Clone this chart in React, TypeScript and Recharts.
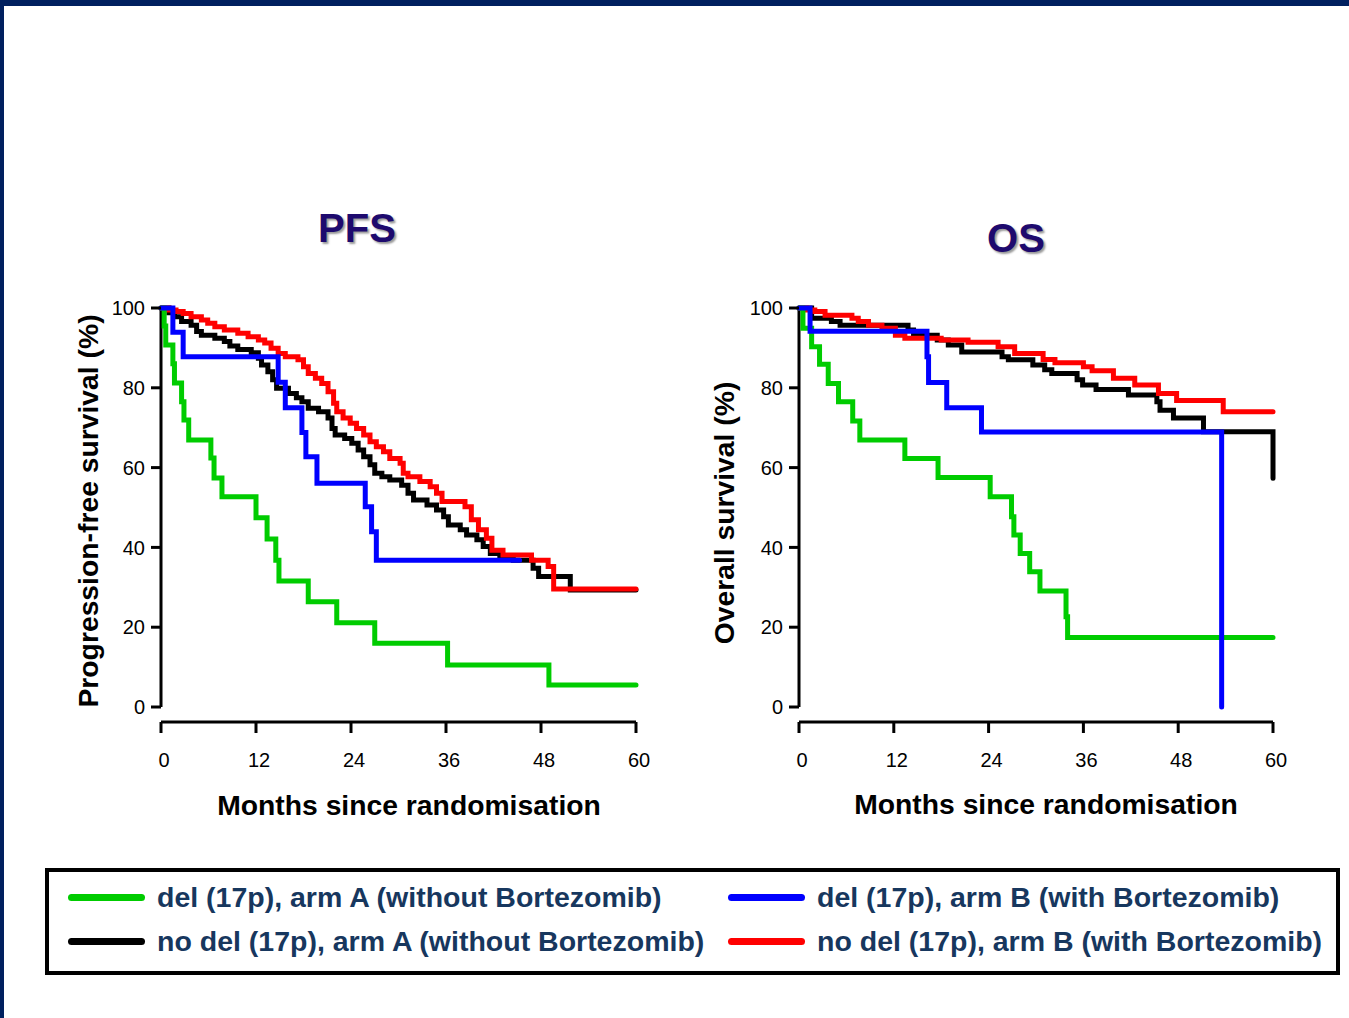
import React from 'react';
import { LineChart, Line, XAxis, YAxis, ReferenceLine } from 'recharts';

// [month, survival %] pairs
const pfsDelA = [[0,100],[0.4,95.5],[0.6,90.7],[1.5,86],[1.7,81.2],[2.6,76.5],[2.9,71.9],[3.5,66.9],[6.3,62.4],[6.7,57.4],[7.7,52.7],[12.0,47.4],[13.4,42.1],[14.5,36.8],[14.9,31.6],[18.6,26.4],[22.2,21.1],[27.0,16.0],[36.2,10.5],[49.0,5.5],[60,5.5]];
const pfsDelB = [[0,100],[1.5,93.9],[2.8,87.8],[14.8,81.4],[15.7,75.0],[17.8,68.8],[18.3,62.7],[19.7,56.1],[25.8,50.2],[26.6,43.9],[27.2,36.8],[45.3,36.8]];
const pfsNoDelA = [[0,100],[1.0,98.8],[1.7,97.8],[2.6,96.6],[3.8,95.7],[4.5,94.1],[5.1,93.2],[6.8,92.4],[8.0,91.6],[8.7,90.5],[9.7,89.6],[11.4,88.8],[12.3,87.4],[12.7,85.7],[13.5,84.0],[14.1,82.0],[14.6,79.9],[16.1,78.6],[17.1,77.5],[17.8,76.5],[18.6,74.9],[19.9,74.0],[21.1,72.4],[21.6,69.8],[22.0,68.2],[23.2,67.3],[24.1,66.1],[24.9,64.4],[25.6,62.7],[26.4,60.7],[27.0,58.6],[27.9,57.7],[28.9,56.9],[30.4,55.6],[31.2,53.6],[31.9,51.9],[33.6,50.6],[34.8,49.4],[35.7,47.7],[36.3,45.6],[37.8,44.4],[38.6,43.1],[39.9,41.9],[40.7,40.2],[41.6,38.5],[42.8,37.7],[44.5,36.8],[47.0,34.8],[47.7,32.7],[51.7,29.3],[60,29.3]];
const pfsNoDelB = [[0,100],[1.0,99.5],[1.9,99.1],[2.8,98.6],[3.8,97.8],[5.1,97.0],[5.9,96.2],[6.8,95.3],[8.0,94.5],[9.7,93.7],[11.0,92.8],[12.3,92.0],[13.1,91.2],[13.9,89.9],[14.8,88.6],[15.7,87.8],[17.3,87.0],[18.0,85.3],[18.6,83.6],[19.5,82.4],[20.3,81.1],[21.1,79.0],[21.8,76.1],[22.2,74.0],[23.0,72.4],[23.9,71.1],[24.7,69.8],[25.6,68.2],[26.4,66.5],[27.2,65.2],[28.1,64.0],[28.9,62.3],[30.2,61.1],[30.6,58.6],[31.2,57.7],[32.7,56.5],[34.0,55.2],[34.8,53.6],[35.5,51.5],[38.4,50.2],[39.2,46.9],[40.1,44.4],[41.1,42.3],[41.8,39.3],[43.2,38.1],[46.8,36.8],[48.9,35.2],[49.6,29.6],[60,29.6]];

const osDelA = [[0,100],[0.5,94.9],[1.6,90.3],[2.6,85.9],[3.7,81.1],[5.0,76.5],[6.8,71.7],[7.7,66.9],[13.4,62.3],[17.6,57.5],[24.2,52.7],[26.9,47.7],[27.2,43.1],[28.0,38.5],[29.2,33.9],[30.5,29.1],[33.8,22.6],[34.0,17.4],[60,17.4]];
const osDelB = [[0,100],[1.4,94.2],[16.2,87.8],[16.4,81.3],[18.7,75.0],[23.1,68.9],[53.5,0]];
const osNoDelA = [[0,100],[1.6,97.4],[4.1,96.6],[5.2,95.7],[13.8,94.5],[14.5,93.2],[17.5,92.0],[18.9,90.7],[20.6,89.0],[25.7,87.8],[26.5,87.0],[29.6,85.7],[31.1,84.5],[32.0,83.6],[35.2,82.0],[35.9,80.7],[37.6,79.6],[41.7,78.2],[45.3,76.5],[45.7,74.4],[47.4,72.4],[51.2,69.0],[60,69.0],[60,57.3]];
const osNoDelB = [[0,100],[1.0,99.5],[2.0,99.1],[3.3,98.2],[6.7,97.4],[7.5,96.6],[8.8,95.7],[10.5,94.9],[12.2,93.2],[13.4,92.4],[18.0,92.0],[21.4,91.4],[25.2,90.3],[27.3,88.6],[30.9,87.1],[32.4,86.3],[36.0,85.3],[37.1,84.3],[39.8,82.4],[42.5,80.7],[45.5,78.6],[47.8,76.8],[53.7,74.0],[60,74.0]];

const monthTicks = [0, 12, 24, 36, 48, 60];
const pctTicks = [0, 20, 40, 60, 80, 100];

const legendItems = [
  { label: 'del (17p), arm A (without Bortezomib)', color: '#00CC00' },
  { label: 'del (17p), arm B (with Bortezomib)', color: '#0000FF' },
  { label: 'no del (17p), arm A (without Bortezomib)', color: '#000000' },
  { label: 'no del (17p), arm B (with Bortezomib)', color: '#FF0000' },
];

const FONT = '"Liberation Sans", Arial, Helvetica, sans-serif';
const NAVY = '#17375E';

const toRows = (pts: number[][]) => pts.map(([m, v]) => ({ m, v }));

interface KMProps {
  left: number;
  yAxisWidth: number;
  rightMargin: number;
  series: { data: number[][]; color: string; key: string }[];
}

const KMChart: React.FC<KMProps> = ({ left, yAxisWidth, rightMargin, series }) => {
  const tickStyle = { fontSize: 20, fill: '#000', fontFamily: FONT };
  return (
    <div style={{ position: 'absolute', left, top: 280 }}>
      <LineChart width={620} height={520} margin={{ top: 28, right: rightMargin, bottom: 0, left: 0 }}>
        <XAxis
          dataKey="m"
          type="number"
          domain={[0, 60]}
          ticks={monthTicks}
          height={78}
          axisLine={{ stroke: '#000', strokeWidth: 3 }}
          tickLine={{ stroke: '#000', strokeWidth: 3 }}
          tickSize={11}
          tickMargin={20}
          tick={{ ...tickStyle, dx: 3 }}
        />
        <YAxis
          type="number"
          domain={[0, 100]}
          ticks={pctTicks}
          width={yAxisWidth}
          padding={{ top: 0, bottom: 15 }}
          axisLine={false}
          tickLine={{ stroke: '#000', strokeWidth: 3 }}
          tickSize={10}
          tickMargin={6}
          tick={tickStyle}
        />
        <ReferenceLine
          segment={[{ x: 0, y: 0 }, { x: 0, y: 100 }]}
          stroke="#000"
          strokeWidth={3}
          ifOverflow="visible"
        />
        {series.map(s => (
          <Line
            key={s.key}
            data={toRows(s.data)}
            dataKey="v"
            type="stepAfter"
            stroke={s.color}
            strokeWidth={5}
            strokeLinecap="round"
            dot={false}
            activeDot={false}
            isAnimationActive={false}
          />
        ))}
      </LineChart>
    </div>
  );
};

const title: React.CSSProperties = {
  position: 'absolute',
  transform: 'translate(-50%, -50%)',
  fontFamily: FONT,
  fontWeight: 'bold',
  fontSize: 40,
  color: '#1E0A6E',
  textShadow: '2px 2px 2px #9a9a9a',
  whiteSpace: 'nowrap',
};

const axisTitle: React.CSSProperties = {
  position: 'absolute',
  fontFamily: FONT,
  fontWeight: 'bold',
  fontSize: 28.3,
  color: '#000',
  whiteSpace: 'nowrap',
};

export default function App() {
  return (
    <div style={{ position: 'absolute', left: 0, top: 0, width: 1349, height: 1018, background: '#fff', overflow: 'hidden' }}>
      <div style={{ position: 'absolute', left: 0, top: 0, width: 1349, height: 6, background: '#00205F' }} />
      <div style={{ position: 'absolute', left: 0, top: 0, width: 4, height: 1018, background: '#00205F' }} />

      <div style={{ ...title, left: 357, top: 228 }}>PFS</div>
      <div style={{ ...title, left: 1016, top: 238 }}>OS</div>

      <KMChart
        left={40}
        yAxisWidth={121}
        rightMargin={24}
        series={[
          { key: 'a', data: pfsNoDelA, color: '#000000' },
          { key: 'b', data: pfsNoDelB, color: '#FF0000' },
          { key: 'c', data: pfsDelA, color: '#00CC00' },
          { key: 'd', data: pfsDelB, color: '#0000FF' },
        ]}
      />
      <KMChart
        left={680}
        yAxisWidth={119}
        rightMargin={27}
        series={[
          { key: 'a', data: osNoDelA, color: '#000000' },
          { key: 'b', data: osNoDelB, color: '#FF0000' },
          { key: 'c', data: osDelA, color: '#00CC00' },
          { key: 'd', data: osDelB, color: '#0000FF' },
        ]}
      />

      <div style={{ ...axisTitle, left: 409, top: 805, transform: 'translate(-50%, -50%)' }}>Months since randomisation</div>
      <div style={{ ...axisTitle, left: 1046, top: 804, transform: 'translate(-50%, -50%)' }}>Months since randomisation</div>
      <div style={{ ...axisTitle, left: 88, top: 511, transform: 'translate(-50%, -50%) rotate(-90deg)' }}>Progression-free survival (%)</div>
      <div style={{ ...axisTitle, left: 724, top: 513, transform: 'translate(-50%, -50%) rotate(-90deg)' }}>Overall survival (%)</div>

      <div style={{ position: 'absolute', left: 45, top: 868, width: 1295, height: 107, border: '4px solid #000', boxSizing: 'border-box' }}>
        {legendItems.map((it, i) => {
          const col = i % 2;
          const row = Math.floor(i / 2);
          return (
            <div
              key={it.label}
              style={{ position: 'absolute', left: col === 0 ? 19 : 679, top: (row === 0 ? 25 : 69) - 18, height: 36, display: 'flex', alignItems: 'center' }}
            >
              <div style={{ width: 77, height: 7, borderRadius: 4, background: it.color }} />
              <span style={{ marginLeft: 12, fontFamily: FONT, fontWeight: 'bold', fontSize: 28.5, color: NAVY, whiteSpace: 'nowrap' }}>{it.label}</span>
            </div>
          );
        })}
      </div>
    </div>
  );
}
